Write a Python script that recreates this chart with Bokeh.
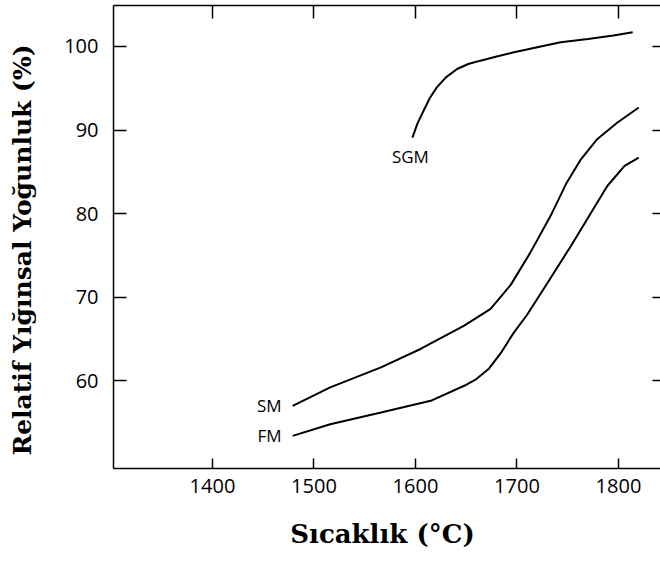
from bokeh.plotting import figure
from bokeh.models import LinearAxis, Range1d, FixedTicker
from bokeh.core.properties import value
from bokeh.embed import file_html
from bokeh.resources import INLINE

# Data
sgm_t = [1597, 1602, 1608, 1614, 1621, 1630, 1641, 1652, 1664, 1680, 1697, 1720, 1743, 1770, 1795, 1814]
sgm_d = [89.1, 90.8, 92.3, 93.8, 95.1, 96.3, 97.3, 97.9, 98.3, 98.8, 99.3, 99.9, 100.5, 100.9, 101.3, 101.7]

sm_t = [1479, 1516, 1566, 1605, 1648, 1674, 1694, 1713, 1733, 1749, 1763, 1779, 1799, 1820]
sm_d = [57.0, 59.2, 61.6, 63.8, 66.6, 68.6, 71.5, 75.3, 79.7, 83.7, 86.5, 88.9, 90.9, 92.7]

fm_t = [1479, 1516, 1566, 1615, 1648, 1660, 1672, 1684, 1696, 1710, 1730, 1753, 1773, 1789, 1806, 1820]
fm_d = [53.4, 54.8, 56.2, 57.6, 59.4, 60.2, 61.4, 63.3, 65.6, 67.9, 71.7, 76.1, 80.1, 83.3, 85.7, 86.7]

series_names = ["SGM", "SM", "FM"]
x_ticks = [1400, 1500, 1600, 1700, 1800]
y_ticks = [60, 70, 80, 90, 100]

x_title = "Sıcaklık  (°C)"
y_title = "Relatif  Yığınsal  Yoğunluk  (%)"

TICK_FONT = "Open Sans"
TITLE_FONT = "DejaVu Serif"

p = figure(width=660, height=565, output_backend="svg", toolbar_location=None,
           x_range=Range1d(1302.5, 1841.4), y_range=Range1d(49.5, 104.9),
           min_border_left=113, min_border_right=0, min_border_top=5, min_border_bottom=97)
p.outline_line_color = None
p.xgrid.visible = False
p.ygrid.visible = False
p.background_fill_color = "white"
p.border_fill_color = "white"

# bottom axis
xa = p.xaxis[0]
xa.ticker = FixedTicker(ticks=x_ticks)
xa.minor_tick_line_color = None
xa.major_tick_in = 10
xa.major_tick_out = 0
xa.major_tick_line_width = 1.5
xa.axis_line_width = 1.5
xa.major_label_standoff = 10
xa.major_label_text_font = TICK_FONT
xa.major_label_text_font_size = "20px"
xa.major_label_text_color = "black"
xa.axis_label = x_title
xa.axis_label_text_font = TITLE_FONT
xa.axis_label_text_font_style = "bold"
xa.axis_label_text_font_size = "26px"
xa.axis_label_standoff = 23
xa.axis_label_text_color = "black"

# left axis
ya = p.yaxis[0]
ya.ticker = FixedTicker(ticks=y_ticks)
ya.minor_tick_line_color = None
ya.major_tick_in = 13
ya.major_tick_out = 0
ya.major_tick_line_width = 1.5
ya.axis_line_width = 1.5
ya.major_label_standoff = 15
ya.major_label_text_font = TICK_FONT
ya.major_label_text_font_size = "20px"
ya.major_label_text_color = "black"
ya.axis_label = y_title
ya.axis_label_text_font = TITLE_FONT
ya.axis_label_text_font_style = "bold"
ya.axis_label_text_font_size = "25px"
ya.axis_label_standoff = 24
ya.axis_label_text_color = "black"

# top axis: ticks only
top = LinearAxis(ticker=FixedTicker(ticks=x_ticks), major_tick_in=13, major_tick_out=0,
                 minor_tick_line_color=None,
                 major_label_overrides={t: "" for t in x_ticks},
                 major_tick_line_width=1.5, axis_line_width=1.5, major_label_standoff=0)
p.add_layout(top, "above")

# right axis: ticks only (frame edge is at window edge)
right = LinearAxis(ticker=FixedTicker(ticks=y_ticks), major_tick_in=8, major_tick_out=0,
                   minor_tick_line_color=None,
                   major_label_overrides={t: "" for t in y_ticks},
                   major_tick_line_width=1.5, axis_line_color=None, major_label_standoff=0)
p.add_layout(right, "right")

for t, d in [(sgm_t, sgm_d), (sm_t, sm_d), (fm_t, fm_d)]:
    p.line(t, d, line_color="black", line_width=2)

# series labels next to curve starts
p.text(x=[sgm_t[0]], y=[sgm_d[0]], text=[series_names[0]], text_font=value(TICK_FONT),
       text_font_size="17px", text_align="center", text_baseline="top", y_offset=7, x_offset=-2,
       text_color="black")
p.text(x=[sm_t[0], fm_t[0]], y=[sm_d[0], fm_d[0]], text=series_names[1:], text_font=value(TICK_FONT),
       text_font_size="17px", text_align="right", text_baseline="middle", x_offset=-11, y_offset=0,
       text_color="black")

open("out.html", "w").write(file_html(p, INLINE))
